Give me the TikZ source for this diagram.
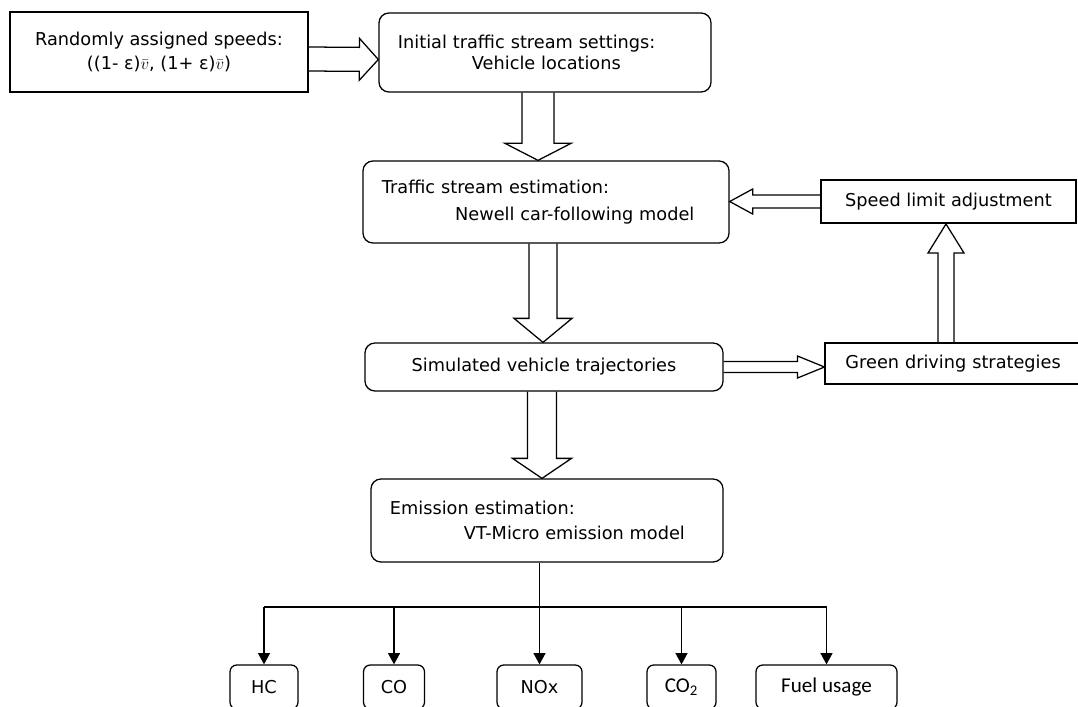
\documentclass[tikz,border=0pt]{standalone}
\usepackage{fontspec}
\setmainfont{DejaVu Sans}
\newfontfamily\calfont{Carlito}
\usetikzlibrary{arrows.meta, positioning, calc}

% hollow block arrow: start, end, shaft half width, head half width, head length (px)
\newcommand{\fatarrow}[5]{%
  \coordinate (fa-s) at #1;
  \coordinate (fa-e) at #2;
  \coordinate (fa-b) at ($(fa-e)!#5*0.025cm!(fa-s)$);
  \draw[fat] ($(fa-s)!#3*0.025cm!90:(fa-e)$) -- ($(fa-b)!#3*0.025cm!90:(fa-e)$)
    -- ($(fa-b)!#4*0.025cm!90:(fa-e)$) -- (fa-e)
    -- ($(fa-b)!#4*0.025cm!-90:(fa-e)$) -- ($(fa-b)!#3*0.025cm!-90:(fa-e)$)
    -- ($(fa-s)!#3*0.025cm!-90:(fa-e)$);
}

\begin{document}
\begin{tikzpicture}[x=0.025cm, y=-0.025cm, >={Triangle[length=8pt, width=8.5pt]},
    font=\fontsize{12.6}{15}\selectfont,
    rbox/.style={draw, rounded corners=0.25cm, line width=0.9pt, inner xsep=0.475cm, align=left},
    sbox/.style={draw, line width=1.4pt, inner xsep=0.4cm},
    gas/.style={draw, rounded corners=0.17cm, line width=0.9pt, minimum height=1.1cm, inner sep=0pt},
    fat/.style={line width=0.9pt, line join=miter}]
    \useasboundingbox (0,0) rectangle (1078,706);

    % Nodes
    \node[sbox, minimum width=7.45cm, minimum height=2cm, align=center, font=\fontsize{12.6}{17}\selectfont] (rand) at (159,52)
        {Randomly assigned speeds:\\((1- ε)$\bar{v}$, (1+ ε)$\bar{v}$)};
    \node[rbox, text width=7.35cm, minimum height=1.975cm] (init) at (545,52.5)
        {Initial traffic stream settings:\\\hspace*{1.85cm}Vehicle locations};
    \node[rbox, text width=8.2cm, minimum height=2.05cm, font=\fontsize{12.6}{19}\selectfont] (traffic) at (546,202)
        {Traffic stream estimation:\\\hspace*{1.83cm}Newell car-following model};
    \node[sbox, minimum width=6.375cm, minimum height=1.075cm] (speed) at (948.5,201.5) {Speed limit adjustment};
    \node[rbox, minimum width=8.95cm, minimum height=1.2cm, align=center] (sim) at (544,367) {Simulated vehicle trajectories};
    \node[sbox, text width=5.45cm, inner xsep=0.5cm, minimum height=1.025cm, align=left] (green) at (954.5,363.5) {Green driving strategies};
    \node[rbox, text width=7.85cm, minimum height=2.075cm, font=\fontsize{12.6}{18}\selectfont] (emis) at (547,520.5)
        {Emission estimation:\\\hspace*{1.85cm}VT-Micro emission model};

    \node[gas, minimum width=1.7cm] (hc) at (264,687) {HC};
    \node[gas, minimum width=1.525cm] (co) at (394,687) {CO};
    \node[gas, minimum width=2.125cm] (nox) at (539.5,687) {NOx};
    \node[gas, minimum width=1.725cm, font=\calfont\fontsize{15}{18}\selectfont] (co2) at (681.5,687) {CO\textsubscript{2}};
    \node[gas, minimum width=3.525cm, font=\calfont\fontsize{15}{18}\selectfont] (fuel) at (826.5,687) {Fuel usage};

    % Block arrows
    \fatarrow{($(rand.east)+(0,7)$)}{($(init.west)+(0,7)$)}{12}{21}{19}
    \coordinate (a2) at ($(init.south)+(-7,0)$);
    \fatarrow{(a2)}{(a2 |- traffic.north)}{16}{33}{17}
    \fatarrow{(speed.west)}{(speed.west -| traffic.east)}{6.5}{12.5}{23}
    \coordinate (a4) at ($(traffic.south)+(-3,0)$);
    \fatarrow{(a4)}{(a4 |- sim.north)}{14}{29}{24}
    \fatarrow{(sim.east)}{(sim.east -| green.west)}{5.5}{11}{27}
    \coordinate (a6) at ($(green.north)+(-8.5,0)$);
    \fatarrow{(a6)}{(a6 |- speed.south)}{8}{18}{29}
    \coordinate (a7) at ($(sim.south)+(-2,0)$);
    \fatarrow{(a7)}{(a7 |- emis.north)}{14.5}{29.5}{20}

    % Connections
    \coordinate (bus) at (0,607);
    \draw[line width=0.9pt] (nox.north |- emis.south) -- (nox.north |- bus);
    \draw[line width=0.9pt] (hc.north |- bus) -- (fuel.north |- bus);
    \foreach \g in {hc, co, nox, co2, fuel}
        \draw[->, line width=0.9pt] (\g.north |- bus) -- (\g.north);
\end{tikzpicture}
\end{document}
